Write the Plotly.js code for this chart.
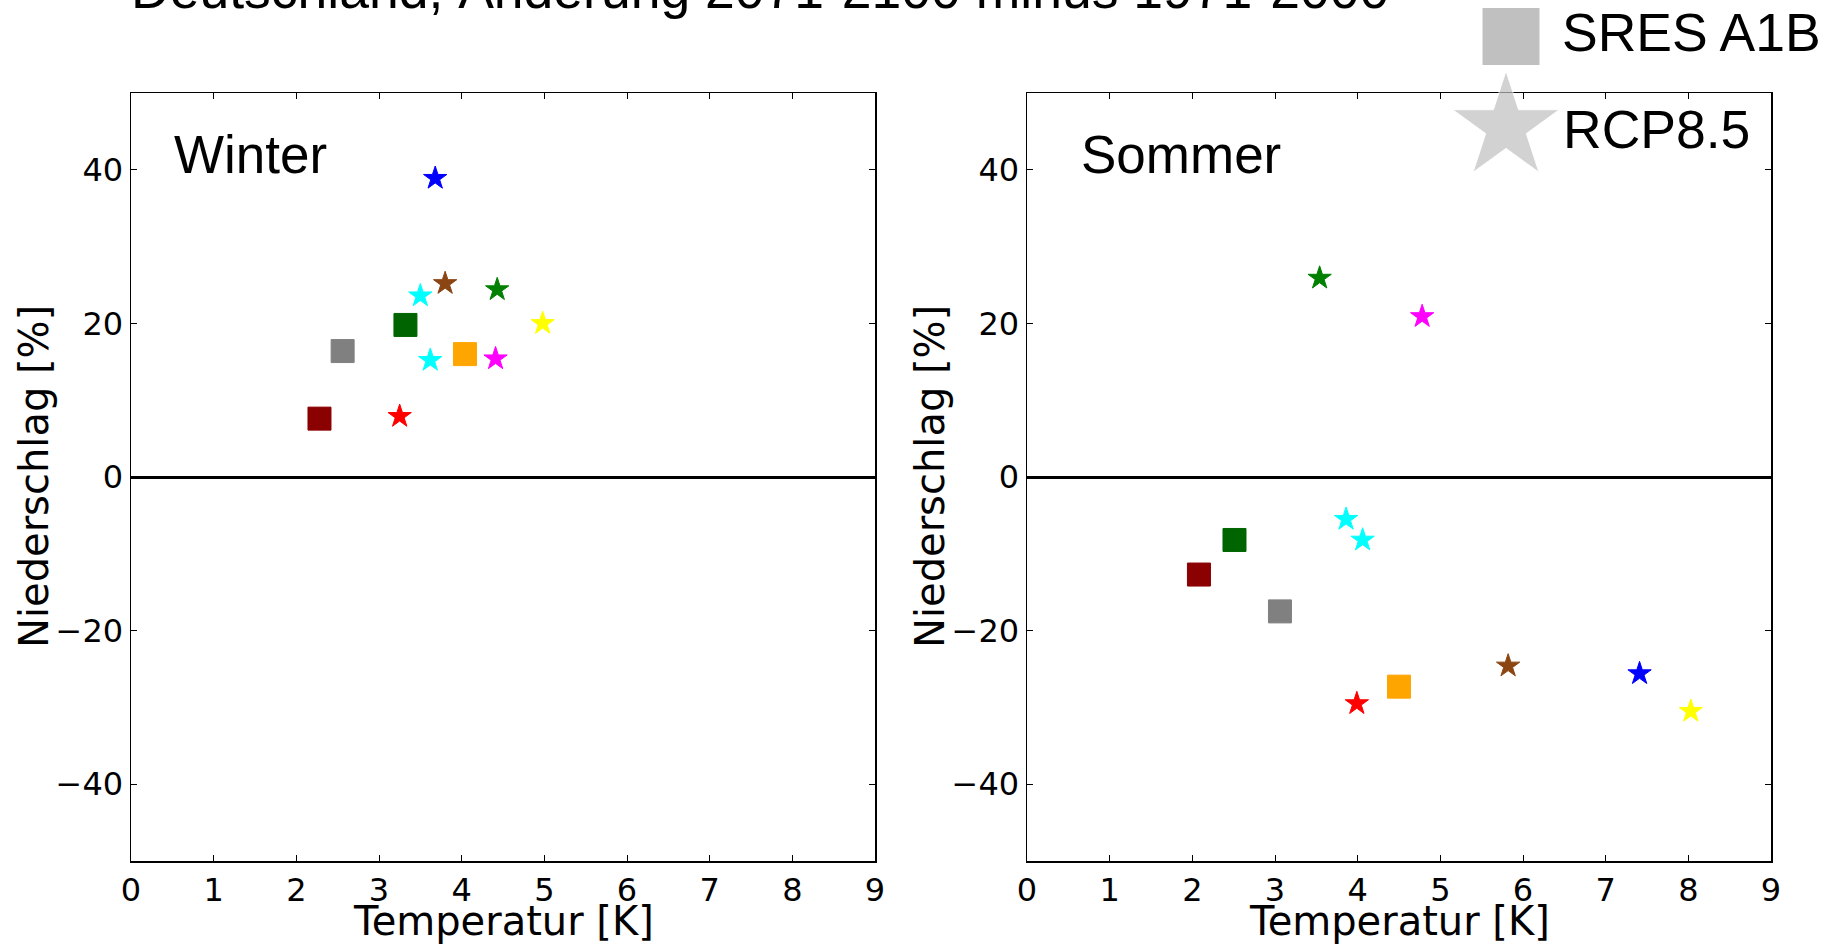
<!DOCTYPE html>
<html>
<head>
<meta charset="utf-8">
<script src="https://cdn.plot.ly/plotly-3.0.1.min.js"></script>
<style>
  html, body { margin: 0; padding: 0; background: #ffffff; }
  #chart { width: 1843px; height: 946px; }
</style>
</head>
<body>
<div id="chart"></div>
<script>
// Klimaprojektionen Deutschland: Änderung von Temperatur [K] und Niederschlag [%]

// SRES A1B (Quadrate)
const sresColors   = ['#8b0000', '#808080', '#006400', '#ffa500'];
const sresWinterT  = [2.28, 2.56, 3.32, 4.04];
const sresWinterP  = [7.6, 16.4, 19.8, 16.0];
const sresSommerT  = [2.08, 3.06, 2.51, 4.50];
const sresSommerP  = [-12.7, -17.5, -8.2, -27.3];

// RCP8.5 (Sterne)
const rcpColors    = ['#ff0000', '#00ffff', '#00ffff', '#0000ff', '#8b4513', '#008000', '#ff00ff', '#ffff00'];
const rcpWinterT   = [3.25, 3.50, 3.62, 3.68, 3.80, 4.43, 4.41, 4.98];
const rcpWinterP   = [7.9, 23.6, 15.2, 38.9, 25.2, 24.4, 15.4, 20.0];
const rcpSommerT   = [3.99, 3.86, 4.06, 7.41, 5.82, 3.54, 4.78, 8.03];
const rcpSommerP   = [-29.5, -5.5, -8.2, -25.6, -24.6, 25.9, 20.9, -30.5];

// Achsen
const xTicks = [0, 1, 2, 3, 4, 5, 6, 7, 8, 9];
const yTicks = [-40, -20, 0, 20, 40];

// Texte
const titleText   = 'Deutschland, Änderung 2071-2100 minus 1971-2000';
const panelNames  = ['Winter', 'Sommer'];
const legendNames = ['SRES A1B', 'RCP8.5'];
const xTitle = 'Temperatur [K]';
const yTitle = 'Niederschlag [%]';

const W = 1843, H = 946;
const px = x => x / W;
const py = y => 1 - y / H;

const sansA = 'Liberation Sans, Arial, sans-serif';
const sansD = 'DejaVu Sans, sans-serif';

function sresTrace(xs, ys, xa, ya) {
  return {
    type: 'scatter', mode: 'markers', x: xs, y: ys, xaxis: xa, yaxis: ya,
    marker: { symbol: 'square', size: 23, color: sresColors,
              line: { width: 1, color: sresColors } },
    hoverinfo: 'x+y', showlegend: false, cliponaxis: false
  };
}
function rcpTrace(xs, ys, xa, ya) {
  return {
    type: 'scatter', mode: 'markers', x: xs, y: ys, xaxis: xa, yaxis: ya,
    marker: { symbol: 'star', size: 17.5, color: rcpColors,
              line: { width: 1, color: rcpColors } },
    hoverinfo: 'x+y', showlegend: false, cliponaxis: false
  };
}

// Legendensymbole in einer eigenen Ebene über den Diagrammen
const keyLayerX = [1511, 1506];
const keyLayerY = [36.5, 127];
const legendKeys = {
  type: 'scatter', mode: 'markers', x: keyLayerX, y: keyLayerY,
  xaxis: 'x3', yaxis: 'y3',
  marker: { symbol: ['square', 'star'], size: [58, 80], color: ['#a6a6a6', '#bfbfbf'] },
  hoverinfo: 'skip', showlegend: false, cliponaxis: false
};

const data = [
  sresTrace(sresWinterT, sresWinterP, 'x', 'y'),
  rcpTrace(rcpWinterT, rcpWinterP, 'x', 'y'),
  sresTrace(sresSommerT, sresSommerP, 'x2', 'y2'),
  rcpTrace(rcpSommerT, rcpSommerP, 'x2', 'y2'),
  legendKeys
];

const xBase = {
  range: [0, 9], tickvals: xTicks, ticktext: xTicks.map(String),
  ticks: 'inside', ticklen: 6, tickwidth: 1, tickcolor: '#000',
  showline: true, linecolor: '#000', linewidth: 1.5, mirror: 'ticks',
  showgrid: false, zeroline: false, fixedrange: true,
  tickfont: { family: sansD, size: 32, color: '#000' }
};
const yBase = {
  range: [-50, 50], tickvals: yTicks,
  ticks: 'inside', ticklen: 6, tickwidth: 1, tickcolor: '#000',
  showline: true, linecolor: '#000', linewidth: 1.5, mirror: 'ticks',
  showgrid: false, zeroline: true, zerolinecolor: '#000', zerolinewidth: 3,
  fixedrange: true,
  tickfont: { family: sansD, size: 32, color: '#000' }
};

const dom1 = [px(131), px(875)];
const dom2 = [px(1027), px(1771)];
const domY = [py(861), py(93)];

const layout = {
  width: W, height: H,
  margin: { l: 0, r: 0, t: 0, b: 0, pad: 0 },
  paper_bgcolor: '#ffffff', plot_bgcolor: 'rgba(0,0,0,0)',
  showlegend: false,
  xaxis:  Object.assign({}, xBase, { domain: dom1, anchor: 'y' }),
  yaxis:  Object.assign({}, yBase, { domain: domY, anchor: 'x' }),
  xaxis2: Object.assign({}, xBase, { domain: dom2, anchor: 'y2' }),
  yaxis2: Object.assign({}, yBase, { domain: domY, anchor: 'x2' }),
  xaxis3: { domain: [0, 1], range: [0, W], visible: false, fixedrange: true, anchor: 'y3' },
  yaxis3: { domain: [0, 1], range: [H, 0], visible: false, fixedrange: true, anchor: 'x3' },
  annotations: [
    { text: titleText, xref: 'paper', yref: 'paper', x: px(760), y: py(-10.4),
      xanchor: 'center', yanchor: 'middle', showarrow: false,
      font: { family: sansA, size: 53.5, color: '#000' } },
    { text: panelNames[0], xref: 'paper', yref: 'paper', x: px(172), y: py(154.6),
      xanchor: 'left', yanchor: 'middle', showarrow: false,
      font: { family: sansA, size: 53, color: '#000' } },
    { text: panelNames[1], xref: 'paper', yref: 'paper', x: px(1079), y: py(154.6),
      xanchor: 'left', yanchor: 'middle', showarrow: false,
      font: { family: sansA, size: 53, color: '#000' } },
    { text: legendNames[0], xref: 'paper', yref: 'paper', x: px(1560), y: py(32.3),
      xanchor: 'left', yanchor: 'middle', showarrow: false,
      font: { family: sansA, size: 53.5, color: '#000' } },
    { text: legendNames[1], xref: 'paper', yref: 'paper', x: px(1561), y: py(129.3),
      xanchor: 'left', yanchor: 'middle', showarrow: false,
      font: { family: sansA, size: 53.5, color: '#000' } },
    { text: xTitle, xref: 'paper', yref: 'paper', x: px(503), y: py(921),
      xanchor: 'center', yanchor: 'middle', showarrow: false,
      font: { family: sansD, size: 40, color: '#000' } },
    { text: xTitle, xref: 'paper', yref: 'paper', x: px(1399), y: py(921),
      xanchor: 'center', yanchor: 'middle', showarrow: false,
      font: { family: sansD, size: 40, color: '#000' } },
    { text: yTitle, xref: 'paper', yref: 'paper', x: px(34), y: py(477),
      xanchor: 'center', yanchor: 'middle', textangle: -90, showarrow: false,
      font: { family: sansD, size: 40, color: '#000' } },
    { text: yTitle, xref: 'paper', yref: 'paper', x: px(930), y: py(477),
      xanchor: 'center', yanchor: 'middle', textangle: -90, showarrow: false,
      font: { family: sansD, size: 40, color: '#000' } }
  ]
};

Plotly.newPlot('chart', data, layout, { staticPlot: true, displayModeBar: false });
</script>
</body>
</html>
